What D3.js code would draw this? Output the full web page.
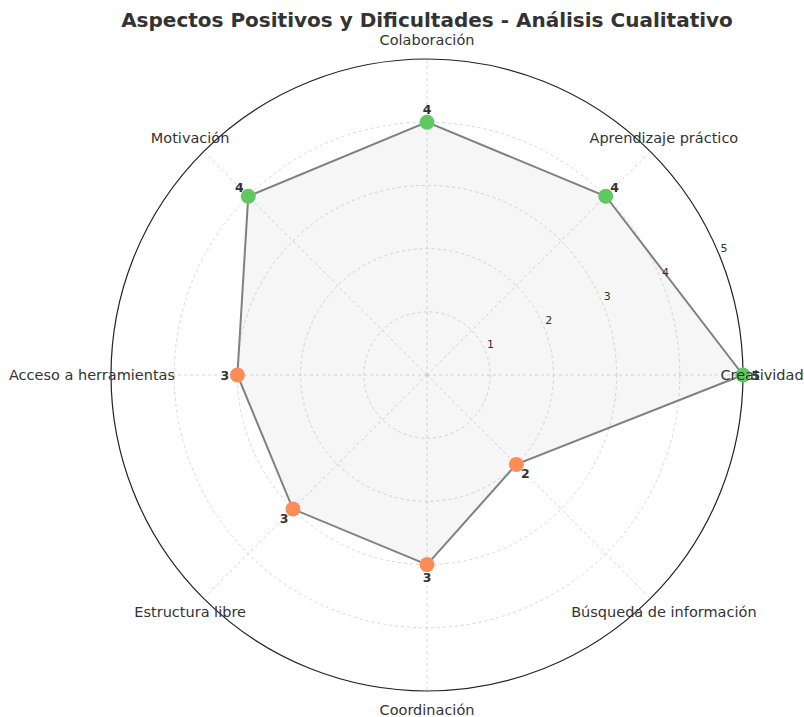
<!DOCTYPE html>
<html>
<head>
<meta charset="utf-8">
<script src="https://cdn.jsdelivr.net/npm/d3@7"></script>
<style>
  html, body { margin: 0; padding: 0; background: #ffffff; }
  svg { display: block; font-family: "DejaVu Sans", sans-serif; }
</style>
</head>
<body>
<svg id="chart" width="804" height="717"></svg>
<script>
const categories = ["Creatividad", "Aprendizaje práctico", "Colaboración", "Motivación",
  "Acceso a herramientas", "Estructura libre", "Coordinación", "Búsqueda de información"];
const values = [5, 4, 4, 4, 3, 3, 3, 2];
const rTicks = [1, 2, 3, 4, 5];
const rMax = 5;
const titleText = "Aspectos Positivos y Dificultades - Análisis Cualitativo";

const svg = d3.select("#chart");
const cx = 427, cy = 375, R = 316;

const r = d3.scaleLinear().domain([0, rMax]).range([0, R]);
const angle = d3.scaleLinear().domain([0, categories.length]).range([0, 2 * Math.PI]);
// matplotlib polar: angle 0 at right, counterclockwise
const px = (i, v) => cx + r(v) * Math.cos(angle(i));
const py = (i, v) => cy - r(v) * Math.sin(angle(i));

const g = svg.append("g");

// grid circles
g.selectAll("circle.grid").data(rTicks.filter(t => t < rMax)).join("circle")
  .attr("cx", cx).attr("cy", cy).attr("r", d => r(d))
  .attr("fill", "none").attr("stroke", "#cccccc").attr("stroke-width", 0.8)
  .attr("stroke-dasharray", "3,3");

// radial spokes
g.selectAll("line.spoke").data(categories).join("line")
  .attr("x1", cx).attr("y1", cy)
  .attr("x2", (d, i) => px(i, rMax)).attr("y2", (d, i) => py(i, rMax))
  .attr("stroke", "#cccccc").attr("stroke-width", 0.8).attr("stroke-dasharray", "3,3");

// polygon
const line = d3.lineRadial()
  .angle((d, i) => Math.PI / 2 - angle(i))
  .radius(d => r(d))
  .curve(d3.curveLinearClosed);
g.append("path")
  .attr("transform", `translate(${cx},${cy})`)
  .attr("d", line(values))
  .attr("fill", "#808080").attr("fill-opacity", 0.07)
  .attr("stroke", "#808080").attr("stroke-width", 2);

// outer spine
g.append("circle").attr("cx", cx).attr("cy", cy).attr("r", r(rMax))
  .attr("fill", "none").attr("stroke", "#222222").attr("stroke-width", 1.2);

// radial tick labels
const la = Math.PI / 8;
g.selectAll("text.rtick").data(rTicks).join("text")
  .attr("x", d => cx + r(d) * Math.cos(la) + 5)
  .attr("y", d => cy - r(d) * Math.sin(la) - 6)
  .attr("text-anchor", "middle").attr("dominant-baseline", "central")
  .attr("font-size", 11).attr("fill", "#333333")
  .text(d => d);

// points
g.selectAll("circle.pt").data(values).join("circle")
  .attr("cx", (d, i) => px(i, d)).attr("cy", (d, i) => py(i, d))
  .attr("r", 7.5)
  .attr("fill", d => d >= 4 ? "#5ec962" : "#fc8d59");

// category labels
g.selectAll("text.cat").data(categories).join("text")
  .attr("x", (d, i) => cx + (R + 19) * Math.cos(angle(i)))
  .attr("y", (d, i) => cy - (R + 19) * Math.sin(angle(i)))
  .attr("text-anchor", "middle").attr("dominant-baseline", "central")
  .attr("font-size", 14.5).attr("fill", "#333333")
  .text(d => d);

// value labels
g.selectAll("text.val").data(values).join("text")
  .attr("x", (d, i) => px(i, d + 0.2)).attr("y", (d, i) => py(i, d + 0.2))
  .attr("text-anchor", "middle").attr("dominant-baseline", "central")
  .attr("font-size", 12.5).attr("font-weight", "bold").attr("fill", "#333333")
  .text(d => d);

// title
svg.append("text").attr("x", 427).attr("y", 20)
  .attr("text-anchor", "middle").attr("dominant-baseline", "central")
  .attr("font-size", 20).attr("font-weight", "bold").attr("fill", "#333333")
  .text(titleText);
</script>
</body>
</html>
